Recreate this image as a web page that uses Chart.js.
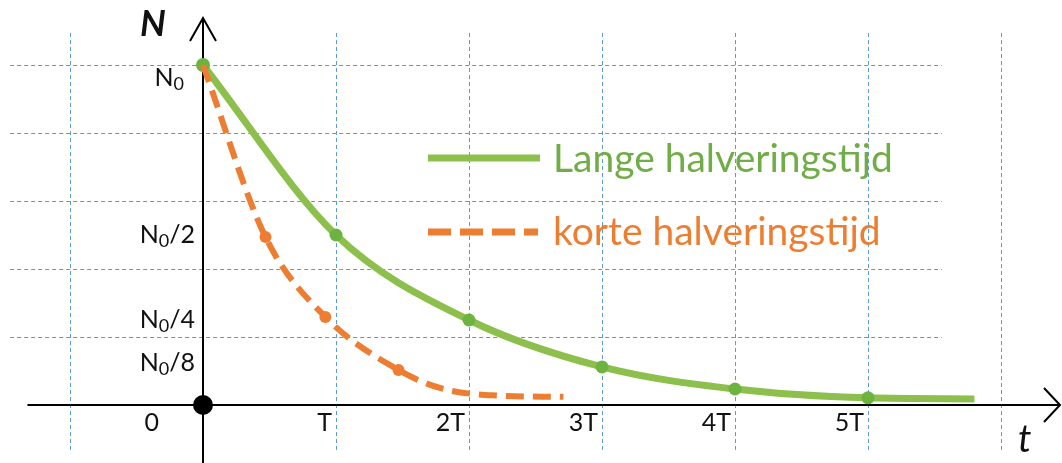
<!DOCTYPE html>
<html>
<head>
<meta charset="utf-8">
<script src="https://cdn.jsdelivr.net/npm/chart.js@4"></script>
<style>
  html, body { margin: 0; padding: 0; background: #fff; }
  #wrap { width: 1062px; height: 463px; }
</style>
</head>
<body>
<div id="wrap"><canvas id="grafiek" width="1062" height="463"></canvas></div>
<script>
// tijd in eenheden T, N als fractie van N0
const langeT = [0, 1, 2, 3, 4, 5, 5.8];
const langeN = [1, 0.5, 0.25, 0.112, 0.047, 0.021, 0.018];
const langeMarker = [7, 6.5, 6.5, 6.5, 6.5, 6.5, 0];

const korteT = [0, 0.47, 0.92, 1.47, 1.8, 2.2, 2.71];
const korteN = [1, 0.494, 0.259, 0.103, 0.048, 0.028, 0.024];
const korteMarker = [0, 6, 6, 6, 0, 0, 0];

const xTicks = [-0.3, 1, 2, 3, 4, 5];
const xLabels = ["0", "T", "2T", "3T", "4T", "5T"];
const yTicks = [1, 0.5, 0.25, 0.125];
const yLabels = ["", "/2", "/4", "/8"];

const gridX = [-1, 1, 2, 3, 4, 5, 6];
const gridY = [1, 0.8, 0.6, 0.4, 0.2];

const groen = "#8cbf4c";
const groenPunt = "#6db33f";
const groenTekst = "#70ad47";
const oranje = "#ed7d31";
const blauw = "#5b9bd5";
const font = "Lato, 'Open Sans', sans-serif";

function punten(xs, ys) {
    return xs.map((x, i) => ({ x: x, y: ys[i] }));
}

// raster + assen achter de lijnen
const achtergrond = {
    id: "achtergrond",
    beforeDatasetsDraw(chart) {
        const ctx = chart.ctx;
        const x = chart.scales.x, y = chart.scales.y;
        ctx.save();
        ctx.strokeStyle = blauw;
        ctx.lineWidth = 1;
        ctx.setLineDash([4, 3]);
        gridX.forEach(t => {
            const px = Math.round(x.getPixelForValue(t)) + 0.5;
            ctx.beginPath();
            ctx.moveTo(px, y.getPixelForValue(1.094));
            ctx.lineTo(px, y.getPixelForValue(-0.132));
            ctx.stroke();
        });
        gridY.forEach(v => {
            const py = Math.round(y.getPixelForValue(v)) + 0.5;
            ctx.beginPath();
            ctx.moveTo(x.getPixelForValue(-1.45), py);
            ctx.lineTo(x.getPixelForValue(5.556), py);
            ctx.stroke();
        });
        ctx.setLineDash([]);

        // assen
        const x0 = x.getPixelForValue(0), y0 = y.getPixelForValue(0);
        ctx.strokeStyle = "#000";
        ctx.lineWidth = 2;
        ctx.beginPath();
        ctx.moveTo(x.getPixelForValue(-1.32), y0);
        ctx.lineTo(1060, y0);
        ctx.moveTo(x0, chart.height);
        ctx.lineTo(x0, 18);
        ctx.stroke();
        // pijlpunten
        ctx.beginPath();
        ctx.moveTo(1044, y0 - 17);
        ctx.lineTo(1060, y0);
        ctx.lineTo(1044, y0 + 17);
        ctx.moveTo(x0 - 13, 41);
        ctx.lineTo(x0, 18);
        ctx.lineTo(x0 + 13, 41);
        ctx.stroke();

        // labels
        ctx.fillStyle = "#111";
        ctx.textBaseline = "alphabetic";
        ctx.font = "25px " + font;
        ctx.textAlign = "right";
        xTicks.forEach((t, i) => {
            ctx.fillText(xLabels[i], x.getPixelForValue(t) - 4, 431);
        });
        yTicks.forEach((v, i) => {
            const right = i === 0 ? 184 : 195;
            const base = y.getPixelForValue(v) + (i === 0 ? 21 : 8);
            ctx.font = "25px " + font;
            const wRest = ctx.measureText(yLabels[i]).width;
            ctx.fillText(yLabels[i], right, base);
            ctx.font = "18px " + font;
            const wSub = ctx.measureText("0").width;
            ctx.fillText("0", right - wRest, base + 4);
            ctx.font = "25px " + font;
            ctx.fillText("N", right - wRest - wSub, base);
        });
        ctx.textAlign = "left";
        ctx.font = "italic bold 36px " + font;
        ctx.fillText("N", 140, 36);
        ctx.font = "italic 38px " + font;
        ctx.fillText("t", 1018, 452);
        ctx.restore();
    },
    afterDatasetsDraw(chart) {
        const ctx = chart.ctx;
        const x = chart.scales.x, y = chart.scales.y;
        ctx.save();
        // oorsprong
        ctx.fillStyle = "#000";
        ctx.beginPath();
        ctx.arc(x.getPixelForValue(0), y.getPixelForValue(0), 10, 0, Math.PI * 2);
        ctx.fill();

        // legenda
        ctx.lineWidth = 7;
        ctx.strokeStyle = groen;
        ctx.beginPath();
        ctx.moveTo(428, 158);
        ctx.lineTo(540, 158);
        ctx.stroke();
        ctx.strokeStyle = oranje;
        ctx.setLineDash([23, 9]);
        ctx.beginPath();
        ctx.moveTo(428, 232);
        ctx.lineTo(538, 232);
        ctx.stroke();
        ctx.setLineDash([]);
        ctx.font = "39px " + font;
        ctx.textAlign = "left";
        ctx.fillStyle = groenTekst;
        ctx.fillText("Lange halveringstijd", 553, 172);
        ctx.fillStyle = oranje;
        ctx.fillText("korte halveringstijd", 553, 245);
        ctx.restore();
    }
};

new Chart(document.getElementById("grafiek"), {
    type: "line",
    data: {
        datasets: [
            {
                label: "Lange halveringstijd",
                data: punten(langeT, langeN),
                borderColor: groen,
                backgroundColor: groenPunt,
                pointBackgroundColor: groenPunt,
                pointBorderWidth: 0,
                pointRadius: langeMarker,
                borderWidth: 7,
                cubicInterpolationMode: "monotone",
                order: 2
            },
            {
                label: "korte halveringstijd",
                data: punten(korteT, korteN),
                borderColor: oranje,
                backgroundColor: oranje,
                pointBackgroundColor: oranje,
                pointBorderWidth: 0,
                pointRadius: korteMarker,
                borderWidth: 6,
                borderDash: [18, 9],
                cubicInterpolationMode: "monotone",
                order: 1
            }
        ]
    },
    options: {
        responsive: false,
        animation: false,
        layout: { padding: 0, autoPadding: false },
        plugins: { legend: { display: false }, tooltip: { enabled: false } },
        scales: {
            x: { type: "linear", display: false, min: -203 / 133, max: 859 / 133 },
            y: { type: "linear", display: false, min: -58 / 340, max: 405 / 340 }
        }
    },
    plugins: [achtergrond]
});
</script>
</body>
</html>
